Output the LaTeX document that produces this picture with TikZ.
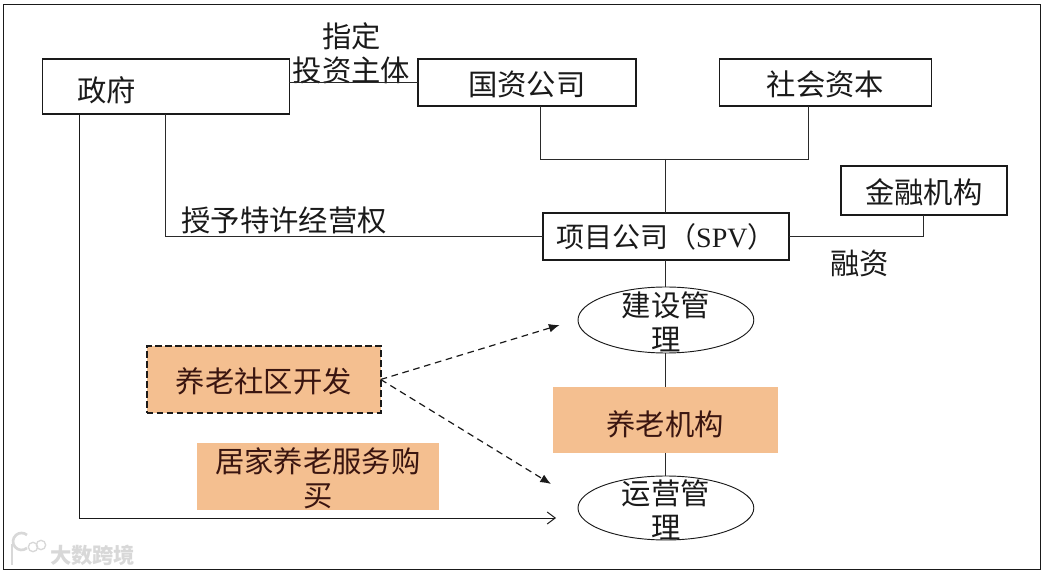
\documentclass[tikz,border=0pt]{standalone}
\usepackage{fontspec}
\setmainfont{Noto Sans CJK SC}
\newfontfamily\latinFont{Liberation Serif}
\usepackage{xcolor}
\usetikzlibrary{arrows.meta,positioning,calc,shapes.geometric}
\definecolor{gDark}{HTML}{1A1A1A}
\definecolor{gLine}{HTML}{2A2A2A}
\definecolor{careFill}{HTML}{F4BF90}
\definecolor{careText}{HTML}{3A1510}
\definecolor{markGray}{HTML}{D8D8D8}
\newcommand{\diagFont}{\fontsize{22}{25.5}\selectfont}
% text set lower than the middle of its box, by #1
\newcommand{\lowerText}[2]{\raisebox{\dimexpr-8.4pt-#1\relax}[0pt][0pt]{#2}}
\tikzset{
  setA/.style={
    font=\diagFont, text=gDark,
    every node/.style={inner sep=0pt, outer sep=0pt},
    line cap=butt, line join=miter,
  },
  block/.style={
    draw=gDark, line width=1.2pt, fill=white, align=center,
  },
  careBlock/.style={
    fill=careFill, text=careText, align=center,
  },
  careBlockDash/.style={
    careBlock, draw=gDark, line width=1.3pt, dash pattern=on 5pt off 2.5pt,
  },
  ellBlock/.style={
    draw=gDark, line width=0.7pt, ellipse, fill=white,
  },
  plainText/.style={align=center},
  link/.style={gLine, line width=0.7pt},
  flow/.style={-{Straight Barb[length=6pt, width=9pt]}, gDark, line width=0.75pt},
  dashFlow/.style={-{Latex[length=8pt, width=6.5pt]}, gDark, line width=0.9pt,
    dash pattern=on 5pt off 3.5pt},
}
\begin{document}
\begin{tikzpicture}[setA, x=0.75pt, y=-0.75pt]
\useasboundingbox (0,0) rectangle (1046,573);

% ============================================================
% Outer frame
% ============================================================
\draw[gDark, line width=0.75pt] (3.4,4.5) rectangle (1040.6,569.5);

% ============================================================
% Top row and the project company
% ============================================================
\node[block, minimum width=185.1pt, minimum height=41.25pt, text width=132.6pt,
      align=left] (govBox) at (166,86.5) {\lowerText{2.6pt}{政府}};
\node[block, minimum width=163.65pt, minimum height=35.25pt] (stateBox)
  at (526.9,82.5) {\lowerText{1.2pt}{国资公司}};
\node[block, minimum width=158.8pt, minimum height=35.25pt] (socialBox)
  at (825.5,82.5) {\lowerText{1pt}{社会资本}};
\node[block, minimum width=124.7pt, minimum height=36.75pt] (fundBox)
  at (923.9,190.5) {\lowerText{1.2pt}{金融机构}};
\node[block, minimum width=184.65pt, minimum height=35.25pt] (spvBox)
  at (665.9,236.5) {\fontsize{21}{25}\selectfont 项目公司（{\latinFont SPV}）};

\node[plainText] (assignText) at (351.6,36) {指定};
\node[plainText] (investText) at (351.6,70) {投资主体};
\node[plainText] (grantText) at (284,220.5) {授予特许经营权};
\node[plainText] (loanText) at (859.6,263) {融资};

% ============================================================
% Lower column: ellipses and elderly-care blocks
% ============================================================
\node[ellBlock, minimum width=131.85pt, minimum height=49.5pt] (buildEll)
  at (665.9,320) {};
\node[plainText] (buildText) at (665.9,322) {建设管\\理};
\node[careBlock, minimum width=168.5pt, minimum height=49.5pt] (careBox)
  at (665.25,420) {\lowerText{3pt}{养老机构}};
\node[ellBlock, minimum width=131.85pt, minimum height=48pt] (runEll)
  at (665.9,508) {};
\node[plainText] (runText) at (665.9,510) {运营管\\理};

\node[careBlockDash, minimum width=175.5pt, minimum height=50.25pt] (devBox)
  at (263.7,379.5) {\lowerText{1.2pt}{养老社区开发}};
\node[careBlock, minimum width=181.35pt, minimum height=50.25pt] (homeBox)
  at (317.9,476.5) {};
\node[plainText, text=careText] (homeText) at (317.9,478.5)
  {\fontsize{22}{26}\selectfont 居家养老服务购\\买};

% ============================================================
% Connectors
% ============================================================
\coordinate (joinLeft) at (540.5,159);
\coordinate (joinMid) at (665.9,159);
\coordinate (joinRight) at (808.5,159);
\coordinate (grantLine) at (165.6,236);
\coordinate (homeLine) at (79.8,518);
\coordinate (homeEnd) at (556,518);
\coordinate (devUp) at (559.6,325);
\coordinate (devDown) at (551,484);

\draw[link] (stateBox.west) -- (stateBox.west -| govBox.east);
\draw[link] (joinLeft |- stateBox.south) -- (joinLeft) -- (joinRight)
  -- (joinRight |- socialBox.south);
\draw[link] (joinMid) -- (spvBox.north);
\draw[link] (grantLine |- govBox.south) |- (spvBox.west);
\draw[link] (spvBox.east) -| (fundBox.south);
\draw[link] (spvBox.south) -- (buildEll.north);
\draw[link] (buildEll.south) -- (buildEll.south |- careBox.north);
\draw[link] (runEll.north |- careBox.south) -- (runEll.north);

\draw[flow] (homeLine |- govBox.south) -- (homeLine) -- (homeEnd);
\draw[dashFlow] (devBox.east) -- (devUp);
\draw[dashFlow] (devBox.east) -- (devDown);

% ============================================================
% Corner watermark
% ============================================================
\node[text=markGray, font=\fontsize{16}{18}\selectfont\bfseries, anchor=west] (markText)
  at (50,555) {大数跨境};
\draw[markGray, line width=1.8pt] (12,544) -- (12,565);
\draw[markGray, line width=2pt] (27,548) arc[start angle=50, end angle=310, radius=8.5];
\node[draw=markGray, line width=1pt, circle, minimum size=7pt] (markDotA) at (33,547) {};
\node[draw=markGray, line width=1pt, circle, minimum size=7pt] (markDotB) at (41,545) {};

\end{tikzpicture}
\end{document}
